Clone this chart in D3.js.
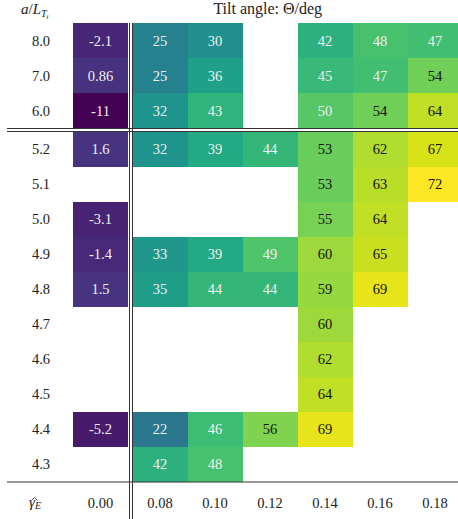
<!DOCTYPE html>
<html>
<head>
<meta charset="utf-8">
<script src="https://cdn.jsdelivr.net/npm/d3@7"></script>
<style>
  body { margin: 0; background: #fff; }
  text { font-family: "Liberation Serif", "DejaVu Serif", serif; }
</style>
</head>
<body>
<div id="chart"></div>
<script>
//chart values
var shearLabels = ["0.00", "0.08", "0.10", "0.12", "0.14", "0.16", "0.18"];
var gradLabels = ["8.0", "7.0", "6.0", "5.2", "5.1", "5.0", "4.9", "4.8", "4.7", "4.6", "4.5", "4.4", "4.3"];
var tilt = [
  [-2.1, 25, 30, null, 42, 48, 47],
  [0.86, 25, 36, null, 45, 47, 54],
  [-11, 32, 43, null, 50, 54, 64],
  [1.6, 32, 39, 44, 53, 62, 67],
  [null, null, null, null, 53, 63, 72],
  [-3.1, null, null, null, 55, 64, null],
  [-1.4, 33, 39, 49, 60, 65, null],
  [1.5, 35, 44, 44, 59, 69, null],
  [null, null, null, null, 60, null, null],
  [null, null, null, null, 62, null, null],
  [null, null, null, null, 64, null, null],
  [-5.2, 22, 46, 56, 69, null, null],
  [null, 42, 48, null, null, null, null]
];

//define SVG size
var svgWidth = 458;
var svgHeight = 519;
var fontSize = 14.5;

var svg = d3.select("#chart")
  .append("svg")
  .attr("width", svgWidth)
  .attr("height", svgHeight);

//column scale: first column then a small gap for the double rule
var cellW = 55;
var xBand = d3.scaleBand()
  .domain(shearLabels)
  .range([73, 73 + cellW * shearLabels.length]);
var colGap = 4.5;
function x(c) {
  return xBand(c) + (c === shearLabels[0] ? 0 : colGap);
}

//row scale: three top rows then the gap for the double rule
var cellH = 35;
var yBand = d3.scaleBand()
  .domain(gradLabels)
  .range([23, 23 + cellH * gradLabels.length]);
var rowGap = 3.5;
function y(r) {
  return yBand(r) + (gradLabels.indexOf(r) < 3 ? 0 : rowGap);
}

//flatten into cells
var cells = [];
tilt.forEach(function(row, i) {
  row.forEach(function(v, j) {
    if (v !== null) cells.push({ r: gradLabels[i], c: shearLabels[j], v: v });
  });
});

var color = d3.scaleSequential(d3.interpolateViridis)
  .domain([d3.min(cells, d => d.v), d3.max(cells, d => d.v)]);

//plain hyphen for negatives, like the original table
function fmt(v) {
  var s = Math.abs(v) >= 10 ? d3.format(".0f")(v) : d3.format(".2~g")(v);
  return s.replace("\u2212", "-");
}

//cells
svg.selectAll("rect.cell")
  .data(cells)
  .enter()
  .append("rect")
  .attr("class", "cell")
  .attr("x", d => x(d.c))
  .attr("y", d => y(d.r))
  .attr("width", cellW)
  .attr("height", cellH)
  .attr("fill", d => color(d.v))
  .attr("shape-rendering", "crispEdges");

svg.selectAll("text.val")
  .data(cells)
  .enter()
  .append("text")
  .attr("class", "val")
  .attr("x", d => x(d.c) + cellW / 2)
  .attr("y", d => y(d.r) + cellH / 2)
  .attr("dy", "0.35em")
  .attr("text-anchor", "middle")
  .attr("font-size", fontSize)
  .attr("fill", d => d.v > 51 ? "#111" : "#f0f0f0")
  .text(d => fmt(d.v));

//row labels
svg.selectAll("text.rowlab")
  .data(gradLabels)
  .enter()
  .append("text")
  .attr("class", "rowlab")
  .attr("x", 41)
  .attr("y", d => y(d) + cellH / 2)
  .attr("dy", "0.35em")
  .attr("text-anchor", "middle")
  .attr("font-size", fontSize)
  .attr("fill", "#222")
  .text(d => d);

//column labels along the bottom
svg.selectAll("text.collab")
  .data(shearLabels)
  .enter()
  .append("text")
  .attr("class", "collab")
  .attr("x", d => x(d) + cellW / 2)
  .attr("y", 503)
  .attr("dy", "0.35em")
  .attr("text-anchor", "middle")
  .attr("font-size", fontSize)
  .attr("fill", "#222")
  .text(d => d);

//header labels
var aLab = svg.append("text")
  .attr("x", 21)
  .attr("y", 14)
  .attr("font-size", 15)
  .attr("fill", "#222");
aLab.append("tspan").attr("font-style", "italic").text("a");
aLab.append("tspan").text("/");
aLab.append("tspan").attr("font-style", "italic").text("L");
aLab.append("tspan").attr("font-style", "italic").attr("font-size", 10).attr("dy", 3).text("T");
aLab.append("tspan").attr("font-style", "italic").attr("font-size", 7).attr("dy", 2).text("i");

svg.append("text")
  .attr("x", (73 + 73 + cellW * shearLabels.length + colGap) / 2)
  .attr("y", 14)
  .attr("text-anchor", "middle")
  .attr("font-size", 16)
  .attr("fill", "#222")
  .text("Tilt angle: Θ/deg");

//gamma with subscript E; the hat is drawn as a small stroke
var gLab = svg.append("text")
  .attr("x", 29)
  .attr("y", 507)
  .attr("font-size", 15)
  .attr("fill", "#222");
gLab.append("tspan").attr("font-style", "italic").text("γ");
gLab.append("tspan").attr("font-style", "italic").attr("font-size", 10).attr("dy", 2).text("E");
svg.append("path")
  .attr("d", "M31.5,500.5 L34.5,497.5 L37.5,500.5")
  .attr("fill", "none")
  .attr("stroke", "#222")
  .attr("stroke-width", 0.8);

//rules
var ruleColor = "#333";
var bottomRule = y(gradLabels[gradLabels.length - 1]) + cellH;
[128, 131].forEach(function(yy) {
  svg.append("line")
    .attr("x1", 7).attr("x2", svgWidth)
    .attr("y1", yy + 0.5).attr("y2", yy + 0.5)
    .attr("stroke", ruleColor)
    .attr("stroke-width", 1);
});
svg.append("line")
  .attr("x1", 7).attr("x2", svgWidth)
  .attr("y1", bottomRule + 0.5).attr("y2", bottomRule + 0.5)
  .attr("stroke", ruleColor)
  .attr("stroke-width", 1);
[129, 132].forEach(function(xx) {
  svg.append("line")
    .attr("x1", xx + 0.5).attr("x2", xx + 0.5)
    .attr("y1", 23).attr("y2", svgHeight)
    .attr("stroke", ruleColor)
    .attr("stroke-width", 1);
});
</script>
</body>
</html>
